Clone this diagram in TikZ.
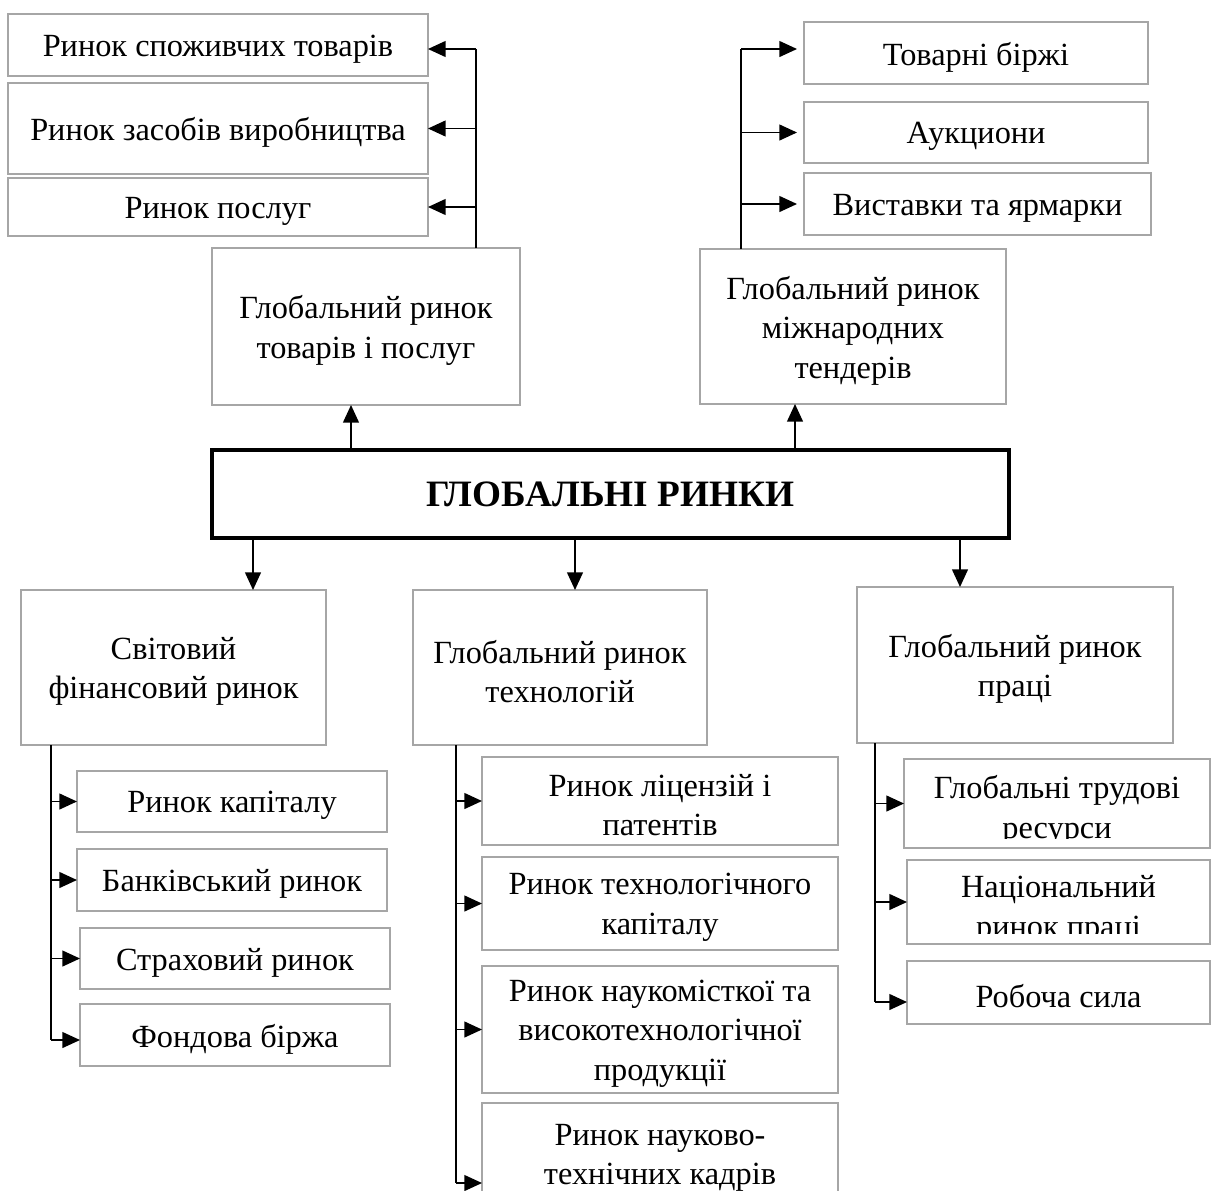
\documentclass[tikz,border=0pt]{standalone}
\usepackage{fontspec}
\setmainfont{Liberation Serif}
\usetikzlibrary{arrows.meta}
\definecolor{boxgray}{HTML}{A6A6A6}
% box given by its corners in pixel units: name, x1, y1, x2, y2, text
\newcommand\pbox[6]{%
  \node[box, minimum width={(#4-#2)*0.02cm}, minimum height={(#5-#3)*0.02cm}]
    (#1) at ({(#2+#4)/2},{(#3+#5)/2}) {};
  \node[txt] (#1t) at ([shift={(0,4)}]#1.center) {#6};}
\begin{document}
\begin{tikzpicture}[x=0.02cm,y=-0.02cm,
  box/.style={draw=boxgray, line width=1.5pt, fill=white,
    inner sep=0pt, outer sep=0pt},
  txt/.style={align=center, inner sep=0pt, font=\fontsize{18.4}{22.5}\selectfont},
  mainbox/.style={draw=black, line width=2pt, fill=white, inner sep=0pt, outer sep=0pt,
    font=\fontsize{21.2}{25}\selectfont\bfseries},
  link/.style={line width=0.85pt, draw=black},
  arr/.style={link, -{Triangle[length=10pt,width=9pt]}},
]
\clip (0,0) rectangle (1213,1190);

% central node
\node[mainbox, minimum width={797*0.02cm}, minimum height={88*0.02cm}]
  (main) at (610.5,494) {ГЛОБАЛЬНІ РИНКИ};

% goods and services
\pbox{r1}{8}{14}{428}{76}{Ринок споживчих товарів}
\pbox{r2}{8}{83}{428}{174}{Ринок засобів виробництва}
\pbox{r3}{8}{178}{428}{236}{Ринок послуг}
\pbox{gtp}{212}{248}{520}{405}{Глобальний ринок\\товарів і послуг}

% international tenders
\pbox{s1}{804}{22}{1148}{84}{Товарні біржі}
\pbox{s2}{804}{102}{1148}{163}{Аукциони}
\pbox{s3}{804}{173}{1151}{235}{Виставки та ярмарки}
\pbox{gtt}{700}{249}{1006}{404}{Глобальний ринок\\міжнародних\\тендерів}

% financial market
\pbox{fin}{21}{590}{326}{745}{Світовий\\фінансовий ринок}
\pbox{f1}{77}{771}{387}{832}{Ринок капіталу}
\pbox{f2}{77}{849}{387}{911}{Банківський ринок}
\pbox{f3}{80}{928}{390}{989}{Страховий ринок}
\pbox{f4}{80}{1004}{390}{1066}{Фондова біржа}

% technology market
\pbox{tech}{413}{590}{707}{745}{Глобальний ринок\\технологій}
\pbox{t1}{482}{757}{838}{845}{Ринок ліцензій і\\патентів}
\pbox{t2}{482}{857}{838}{950}{Ринок технологічного\\капіталу}
\pbox{t3}{482}{966}{838}{1093}{Ринок наукомісткої та\\високотехнологічної\\продукції}
\pbox{t4}{482}{1103}{838}{1205}{Ринок науково-\\технічних кадрів}

% labour market
\pbox{lab}{857}{587}{1173}{743}{Глобальний ринок\\праці}
\pbox{l1}{904}{759}{1210}{848}{}
\pbox{l2}{907}{860}{1210}{944}{}
\pbox{l3}{907}{961}{1210}{1024}{Робоча сила}
\begin{scope}
  \clip (904,759) rectangle (1210,838);
  \node[txt] (l1c) at ([shift={(0,7)}]l1.center) {Глобальні трудові\\ресурси};
\end{scope}
\begin{scope}
  \clip (907,860) rectangle (1210,933);
  \node[txt] (l2c) at ([shift={(0,8)}]l2.center) {Національний\\ринок праці};
\end{scope}

% connectors from the central node
\draw[arr] (main.north -| 351,0) -- (gtp.south -| 351,0);
\draw[arr] (main.north -| 795,0) -- (gtt.south -| 795,0);
\draw[arr] (main.south -| 253,0) -- (fin.north -| 253,0);
\draw[arr] (main.south -| 575,0) -- (tech.north -| 575,0);
\draw[arr] (main.south -| 960,0) -- (lab.north -| 960,0);

% goods and services branches
\coordinate (bl) at (476,49);
\draw[link] (gtp.north -| bl) -- (bl);
\draw[arr] (bl) -- (r1.east |- bl);
\draw[arr] (bl |- r2.east) -- (r2.east);
\draw[arr] (bl |- r3.east) -- (r3.east);

% tender branches
\coordinate (br) at (741,49);
\draw[link] (gtt.north -| br) -- (br);
\draw[arr, shorten >=7*0.02cm] (br) -- (s1.west |- br);
\draw[arr, shorten >=7*0.02cm] (br |- s2.west) -- (s2.west);
\draw[arr, shorten >=7*0.02cm] (br |- s3.west) -- (s3.west);

% financial branches
\coordinate (bf) at (51,1040);
\draw[link] (fin.south -| bf) -- (bf);
\draw[arr] (bf |- f1.west) -- (f1.west);
\draw[arr] (bf |- f2.west) -- (f2.west);
\draw[arr] (bf |- f3.west) -- (f3.west);
\draw[arr] (bf) -- (f4.west |- bf);

% technology branches
\coordinate (bt) at (456,1183);
\draw[link] (tech.south -| bt) -- (bt);
\draw[arr] (bt |- t1.west) -- (t1.west);
\draw[arr] (bt |- t2.west) -- (t2.west);
\draw[arr] (bt |- t3.west) -- (t3.west);
\draw[arr] (bt) -- (t4.west |- bt);

% labour branches
\coordinate (bw) at (875,1002);
\draw[link] (lab.south -| bw) -- (bw);
\draw[arr] (bw |- l1.west) -- (l1.west);
\draw[arr] (bw |- l2.west) -- (l2.west);
\draw[arr] (bw) -- (l3.west |- bw);
\end{tikzpicture}
\end{document}
